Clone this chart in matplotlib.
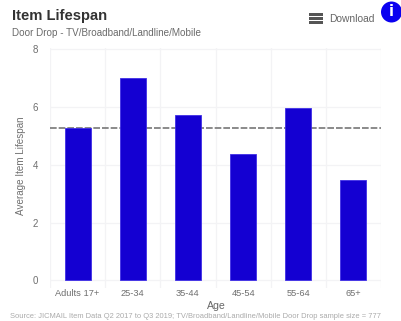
import matplotlib
matplotlib.use("Agg")
import matplotlib.pyplot as plt
from matplotlib.patches import Circle, Rectangle
import numpy as np

ages = ["Adults 17+", "25-34", "35-44", "45-54", "55-64", "65+"]
lifespan = [5.27, 7.0, 5.73, 4.39, 5.98, 3.47]
average = 5.29
y_ticks = [0, 2, 4, 6, 8]

W, H = 401, 321
plt.rcParams["font.family"] = ["Liberation Sans", "DejaVu Sans"]

fig = plt.figure(figsize=(W / 100, H / 100), dpi=100)
ax = fig.add_axes([50 / W, (H - 288) / H, 331 / W, 240 / H])

x = np.arange(len(ages))
ax.bar(x, lifespan, width=0.47, color="#1400d2", edgecolor="#3f2ee6", linewidth=0.6, zorder=3)
ax.axhline(average, color="#777777", linestyle=(0, (4, 1.2)), linewidth=1.2, zorder=2)

ax.set_xlim(-0.5, len(ages) - 0.5)
ax.set_ylim(-0.26, 8.04)
ax.set_xticks(x)
ax.set_xticklabels(ages)
ax.set_xticks(np.arange(len(ages) + 1) - 0.5, minor=True)
ax.set_yticks(y_ticks)
ax.grid(True, which="minor", axis="x", color="#f3f3f5", linewidth=0.9, zorder=0)
ax.grid(True, which="major", axis="y", color="#f3f3f5", linewidth=0.9, zorder=0)
ax.tick_params(which="both", length=0)
ax.tick_params(axis="x", labelsize=6.7, labelcolor="#6f6f6f", pad=1)
ax.tick_params(axis="y", labelsize=7, labelcolor="#6f6f6f", pad=8.5)
for s in ax.spines.values():
    s.set_visible(False)

# axis titles placed by pixel position
fig.text(216 / W, 1 - 306 / H, "Age", fontsize=7.6, color="#666666", va="center", ha="center")
fig.text(21 / W, 1 - 165.5 / H, "Average Item Lifespan", fontsize=7.1, color="#707070",
         va="center", ha="center", rotation=90)

# header and footer text
fig.text(12 / W, 1 - 16 / H, "Item Lifespan", fontsize=10.6, fontweight="bold", color="#333333", va="center")
fig.text(12 / W, 1 - 33.5 / H, "Door Drop - TV/Broadband/Landline/Mobile", fontsize=7.1, color="#6a6a6a", va="center")
fig.text(381 / W, 1 - 317 / H, "Source: JICMAIL Item Data Q2 2017 to Q3 2019; TV/Broadband/Landline/Mobile Door Drop sample size = 777",
         fontsize=5.4, color="#aaaaaa", va="center", ha="right")

# download menu
for py in [14.5, 18.5, 22.5]:
    fig.add_artist(Rectangle((309 / W, 1 - (py + 1.2) / H), 14 / W, 2.4 / H, transform=fig.transFigure, color="#555555", lw=0))
fig.text(329.5 / W, 1 - 19.5 / H, "Download", fontsize=7.4, color="#666666", va="center")

# info badge, drawn in pixel coordinates so it stays round
fig.add_artist(Circle((391.5, H - 12), 10.5, transform=None, color="#0a00f0", lw=0))
fig.text(391.5 / W, 1 - 12 / H, "i", fontsize=10.5, fontweight="bold", family="DejaVu Sans", color="white", va="center", ha="center")

fig.savefig("out.png", dpi=100)
